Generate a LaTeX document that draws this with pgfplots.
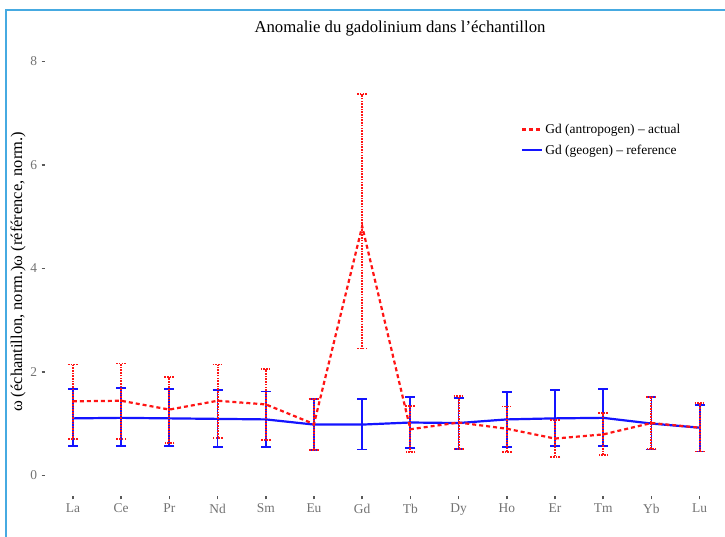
\documentclass[border=0pt]{standalone}
\usepackage{pgfplots}
\pgfplotsset{compat=1.18}
\usepackage{pgfplotstable}
\usepackage{fontspec}
\setmainfont{Liberation Serif}
\definecolor{frameblue}{RGB}{70,170,225}
\definecolor{ared}{RGB}{255,20,20}
\definecolor{gblue}{RGB}{20,20,255}
\pgfplotstableread{
i y hi lo
0 1.43 2.14 0.71
1 1.44 2.16 0.71
2 1.27 1.90 0.63
3 1.44 2.14 0.72
4 1.37 2.05 0.68
5 0.99 1.47 0.49
6 4.81 7.37 2.45
7 0.89 1.34 0.45
8 1.02 1.53 0.50
9 0.90 1.33 0.45
10 0.71 1.06 0.36
11 0.79 1.21 0.40
12 1.01 1.51 0.50
13 0.92 1.39 0.46
}\actual
\pgfplotstableread{
i y hi lo
0 1.10 1.66 0.56
1 1.11 1.68 0.56
2 1.10 1.66 0.56
3 1.09 1.65 0.55
4 1.08 1.62 0.54
5 0.98 1.47 0.49
6 0.98 1.48 0.50
7 1.02 1.51 0.52
8 1.01 1.50 0.51
9 1.08 1.61 0.54
10 1.10 1.65 0.56
11 1.11 1.66 0.56
12 1.00 1.51 0.50
13 0.92 1.36 0.46
}\reference
\begin{document}
\begin{tikzpicture}[x=1bp,y=1bp]
\useasboundingbox (0,0) rectangle (725,537);
\fill[white] (0,0) rectangle (725,537);
\draw[frameblue, line width=2bp] (6,0) -- (6,527) -- (725,527);
\node[font=\fontsize{16.8}{17}\selectfont] at (400,509) {Anomalie du gadolinium dans l’échantillon};
\node[rotate=90, font=\fontsize{16.5}{17}\selectfont] at (18,265) {ω (échantillon, norm.)ω (référence, norm.)};
\begin{axis}[
  at={(45bp,41bp)}, anchor=south west,
  scale only axis, width=678.7bp, height=455.4bp,
  xmin=-0.58, xmax=13.5, ymin=-0.4, ymax=8.4,
  axis line style={draw=none},
  xtick={0,...,13},
  xticklabels={La,Ce,Pr,Nd,Sm,Eu,Gd,Tb,Dy,Ho,Er,Tm,Yb,Lu},
  ytick={0,2,4,6,8},
  xtick pos=bottom, ytick pos=left,
  tick align=outside, major tick length=3.5bp,
  tick style={line width=1.5bp, black!65},
  tick label style={font=\fontsize{13.5}{14}\selectfont, text=black!55},
  /pgf/number format/assume math mode=true,
  xticklabel style={yshift=-1bp},
  yticklabel style={xshift=-1bp},
  legend style={draw=none, fill=none, at={(rel axis cs:0.697,0.826)}, anchor=north west,
    font=\fontsize{13.5}{14}\selectfont, row sep=6bp, cells={anchor=west}},
  legend image code/.code={\draw[#1] (0bp,0bp) -- (20bp,0bp);},
]
\addplot[gblue, line width=2.2bp, no markers, forget plot,
  error bars/.cd, y dir=both, y explicit,
  error bar style={gblue, line width=1.8bp},
  error mark options={rotate=90, mark size=5bp, line width=1.8bp, gblue}]
  table[x=i, y=y, y error plus expr=\thisrow{hi}-\thisrow{y}, y error minus expr=\thisrow{y}-\thisrow{lo}] {\reference};
\addplot[ared, line width=2.2bp, dash pattern=on 4bp off 3bp, no markers, forget plot,
  error bars/.cd, y dir=both, y explicit,
  error bar style={ared, line width=1.9bp, dash pattern=on 1.6bp off 1.1bp},
  error mark options={rotate=90, mark size=5bp, line width=1.9bp, ared, dash pattern=on 1.6bp off 1.1bp}]
  table[x=i, y=y, y error plus expr=\thisrow{hi}-\thisrow{y}, y error minus expr=\thisrow{y}-\thisrow{lo}] {\actual};
\addlegendimage{ared, line width=2.2bp, dash pattern=on 4bp off 3bp}
\addlegendentry{Gd (antropogen) – actual}
\addlegendimage{gblue, line width=2.2bp}
\addlegendentry{Gd (geogen) – reference}
\end{axis}
\end{tikzpicture}
\end{document}
